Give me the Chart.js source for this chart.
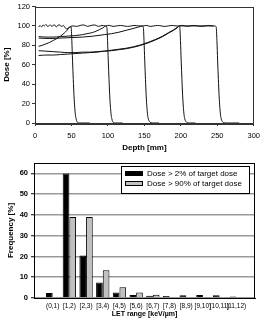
<!DOCTYPE html>
<html>
<head>
<meta charset="utf-8">
<script src="https://cdn.jsdelivr.net/npm/chart.js@4.4.1/dist/chart.umd.min.js"></script>
<style>
  html, body { margin: 0; padding: 0; background: #fff; }
  #wrap { position: relative; width: 265px; height: 321px; }
  #top { position: absolute; left: 0; top: 0; }
  #bottom { position: absolute; left: 0; top: 153px; }
</style>
</head>
<body>
<div id="wrap">
  <canvas id="top" width="265" height="153"></canvas>
  <canvas id="bottom" width="265" height="168"></canvas>
</div>
<script>
// ---- depth-dose curves (top panel) ----
const depthA = [5,7,9,11,13,15,17,19,21,23,25,27,29,31,33,35,37,39,41,43,45,47,49.5,50.5,51.5,52.5,53.5,54.5,55.5,56.5,57.5,59,61,65,75];
const doseA  = [99,100.5,99,101,100,101.5,99.5,100,101,99.5,100.5,101,99,100,101.5,100,99.5,100.5,98.5,97,97.5,98.5,99,85,64,45,28,16,8,4,1.5,0.3,0,0,0];

const depthB = [5,10,15,20,25,30,35,40,44,47,52,57,62,67,72,77,82,87,92,96,98.5,99.5,100.5,101.5,102.5,103.5,104.5,105.5,106.5,108,110,115,120];
const doseB  = [79,80,81.5,83,85,87,89.5,92.5,95.5,98.5,100,99.5,100.5,101,99.5,100.5,101,99.5,100.5,100,99,85,64,45,28,16,8,4,1.5,0.3,0,0,0];

const depthC = [5,15,25,35,45,55,65,75,82,88,93,97,102,107,112,117,122,127,132,137,142,146,148.5,149.5,150.5,151.5,152.5,153.5,154.5,155.5,157,159,162,170];
const doseC  = [89,88.5,88.5,89,89.5,90,91,92.5,94,96,98,100,100.5,99.5,100,100.5,100,99.5,100,100.5,100,100,99,85,64,45,28,16,8,4,1.5,0.3,0,0];

const depthD = [5,20,35,50,65,80,95,105,115,125,133,140,145,148,153,158,163,168,173,178,183,188,193,196,198.5,199.5,200.5,201.5,202.5,203.5,204.5,205.5,207,209,212,220];
const doseD  = [87.5,87,87.5,88,88.5,89.5,91,92,93.5,95.5,97,98.5,99.5,100,100.5,99.5,100,100.5,100,99.5,100,100.5,100,100,99,85,64,45,28,16,8,4,1.5,0.3,0,0];

const depthE = [5,15,25,35,45,55,65,75,85,95,105,115,125,135,145,155,165,175,183,190,195,198,203,208,213,218,223,228,233,238,243,246,248.5,249.5,250.5,251.5,252.5,253.5,254.5,255.5,257,259,262,270,280];
const doseE  = [74.5,74,73.5,73,72.5,72.5,73,73,73.5,74,74.5,75.5,76.5,78,80,82.5,85.5,89,92.5,95.5,98,100,100.5,99.5,100,100.5,100,99.5,100,100.5,100,100,99,85,64,45,28,16,8,4,1.5,0.3,0,0,0];

const depthF = [5,15,25,35,45,55,65,75,85,95,105,115,125,135,145,155,165,175,183,190,195,198,205,215,225,235,245];
const doseF  = [69.5,70,70,70.5,71,71.5,72,72.5,73,74,75,76,77,78.5,80.5,83,86,89.5,93,96,98.5,100,100,100,100,100,100];

const curves = [[depthA,doseA],[depthB,doseB],[depthC,doseC],[depthD,doseD],[depthE,doseE],[depthF,doseF]];
const depthTicks = [0,50,100,150,200,250,300];
const doseTicks = [0,20,40,60,80,100,120];

// ---- LET histogram (bottom panel) ----
const letRanges = ['(0,1)','[1,2)','[2,3)','[3,4)','[4,5)','[5,6)','[6,7)','[7,8)','[8,9)','[9,10)','[10,11)','[11,12)'];
const freq2  = [2.4,60,20.5,7.5,2.7,1.5,1.1,1.0,1.3,1.4,1.3,0.7];
const freq90 = [0,39,39,13.4,5.2,2.7,1.6,0,0,0,0,0];
const freqTicks = [0,10,20,30,40,50,60];
const seriesNames = ['Dose > 2% of target dose', 'Dose > 90% of target dose'];

const FONT = "'Liberation Sans', Arial, sans-serif";
Chart.defaults.font.family = FONT;
Chart.defaults.color = '#000';

const frame = {
  id: 'frame',
  afterDraw(chart, args, opts) {
    const a = chart.chartArea, ctx = chart.ctx;
    ctx.save();
    ctx.strokeStyle = opts.color || '#000';
    ctx.lineWidth = 1;
    ctx.strokeRect(Math.round(a.left) + 0.5, Math.round(a.top) + 0.5, Math.round(a.right - a.left) - 1, Math.round(a.bottom - a.top));
    ctx.restore();
  }
};

new Chart(document.getElementById('top'), {
  type: 'line',
  data: {
    datasets: curves.map(c => ({
      data: c[0].map((d, i) => ({x: d, y: c[1][i]})),
      borderColor: '#111', borderWidth: 1, pointRadius: 0,
      cubicInterpolationMode: 'monotone', fill: false
    }))
  },
  options: {
    responsive: false, animation: false, devicePixelRatio: 1,
    layout: {padding: {top: 3, right: 10, left: 0, bottom: 0}},
    plugins: {legend: {display: false}, tooltip: {enabled: false}, frame: {color: '#333'}},
    scales: {
      x: {
        type: 'linear', min: 0, max: 300,
        afterFit(s) { s.height = 30; },
        afterBuildTicks(s) { s.ticks = depthTicks.map(v => ({value: v})); },
        grid: {drawOnChartArea: false, tickLength: 3, color: '#333'},
        border: {color: '#333'},
        ticks: {font: {size: 7.5}, padding: 5, maxRotation: 0},
        title: {display: true, text: 'Depth [mm]', font: {size: 8, weight: 'bold'}, padding: {top: 0, bottom: 0}}
      },
      y: {
        min: 0, max: 120,
        afterFit(s) { s.width = 35; },
        afterBuildTicks(s) { s.ticks = doseTicks.map(v => ({value: v})); },
        grid: {drawOnChartArea: false, tickLength: 3, color: '#333'},
        border: {color: '#333'},
        ticks: {font: {size: 7.5}, padding: 2},
        title: {display: true, text: 'Dose [%]', font: {size: 8, weight: 'bold'}, padding: {top: 2, bottom: 0}}
      }
    }
  },
  plugins: [frame]
});

const boxLegend = {
  id: 'boxLegend',
  afterDraw(chart) {
    const a = chart.chartArea, ctx = chart.ctx;
    const w = 128, h = 27;
    const x0 = Math.round(a.right - 6 - w), y0 = Math.round(a.top + 3);
    ctx.save();
    ctx.fillStyle = '#fff';
    ctx.fillRect(x0, y0, w, h);
    ctx.strokeStyle = '#000';
    ctx.lineWidth = 1;
    ctx.strokeRect(x0 + 0.5, y0 + 0.5, w, h);
    ctx.font = '8px ' + FONT;
    ctx.textBaseline = 'middle';
    chart.data.datasets.forEach((ds, i) => {
      const cy = y0 + 7.5 + i * 10;
      ctx.fillStyle = ds.backgroundColor;
      ctx.fillRect(x0 + 4, Math.round(cy - 2.5), 18, 5);
      ctx.strokeStyle = '#000';
      ctx.strokeRect(x0 + 4.5, Math.round(cy - 2.5) + 0.5, 17, 4);
      ctx.fillStyle = '#000';
      ctx.fillText(ds.label, x0 + 26, cy + 0.5);
    });
    ctx.restore();
  }
};

new Chart(document.getElementById('bottom'), {
  type: 'bar',
  data: {
    datasets: [
      {label: seriesNames[0], data: freq2.map((v, i) => ({x: i, y: v})), backgroundColor: '#000', borderColor: '#000', borderWidth: 1, borderSkipped: 'start'},
      {label: seriesNames[1], data: freq90.map((v, i) => ({x: i, y: v})), backgroundColor: '#c0c0c0', borderColor: '#000', borderWidth: 1, borderSkipped: 'start'}
    ]
  },
  options: {
    responsive: false, animation: false, devicePixelRatio: 1,
    layout: {padding: {top: 10, right: 10, left: 0, bottom: 0}},
    categoryPercentage: 0.8, barPercentage: 1,
    plugins: {legend: {display: false}, tooltip: {enabled: false}, frame: {color: '#000'}},
    scales: {
      x: {
        type: 'linear', min: -1.12, max: 12.12, offset: false,
        afterFit(s) { s.height = 23; },
        afterBuildTicks(s) { s.ticks = letRanges.map((c, i) => ({value: i})); },
        grid: {display: false, drawTicks: false},
        border: {color: '#000'},
        ticks: {font: {size: 6.5}, padding: 4, maxRotation: 0, autoSkip: false,
                callback: v => letRanges[v]},
        title: {display: true, text: 'LET range [keV/\u00b5m]', font: {size: 7, weight: 'bold'}, padding: {top: 0, bottom: 3}}
      },
      y: {
        min: 0, max: 65,
        afterFit(s) { s.width = 34; },
        afterBuildTicks(s) { s.ticks = freqTicks.map(v => ({value: v})); },
        grid: {color: '#999', lineWidth: 1.5, tickLength: 3, tickColor: '#000', tickWidth: 1},
        border: {color: '#000'},
        ticks: {font: {size: 7.5, weight: 'bold'}, padding: 3},
        title: {display: true, text: 'Frequency [%]', font: {size: 8, weight: 'bold'}, padding: {top: 6, bottom: 0}}
      }
    }
  },
  plugins: [frame, boxLegend]
});
</script>
</body>
</html>
